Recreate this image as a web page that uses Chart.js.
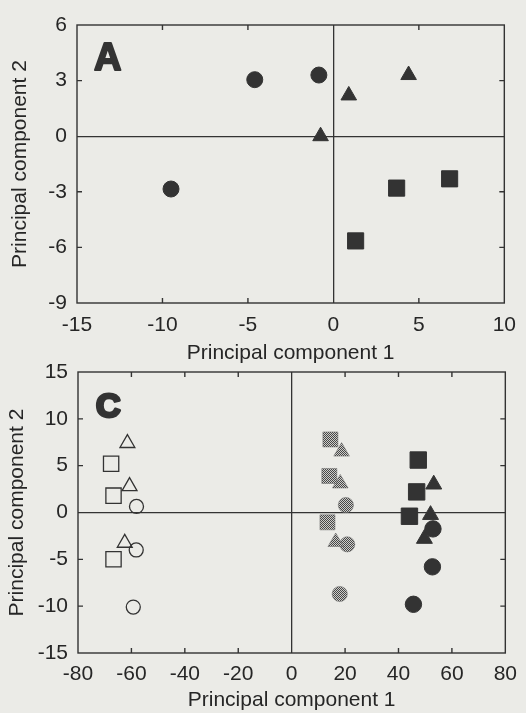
<!DOCTYPE html>
<html><head><meta charset="utf-8">
<script src="https://cdn.jsdelivr.net/npm/chart.js@4.4.1/dist/chart.umd.min.js"></script>
<style>
html,body{margin:0;padding:0;background:#ebebe7;width:526px;height:713px;overflow:hidden}
.box{position:absolute;left:0;width:526px}
#boxA{top:0;height:366px}
#boxC{top:340px;height:373px}
</style></head><body>
<div class="box" id="boxA"><canvas id="chartA"></canvas></div>
<div class="box" id="boxC"><canvas id="chartC"></canvas></div>
<script>
// ---------- Panel A ----------
const xTicksA = [-15, -10, -5, 0, 5, 10];
const yTicksA = [-9, -6, -3, 0, 3, 6];
const circlesA_x = [-4.6, -0.85, -9.5];
const circlesA_y = [3.05, 3.3, -2.85];
const trianglesA_x = [-0.75, 0.9, 4.4];
const trianglesA_y = [0.0, 2.2, 3.3];
const squaresA_x = [1.3, 3.7, 6.8];
const squaresA_y = [-5.65, -2.8, -2.3];

// ---------- Panel C ----------
const xTicksC = [-80, -60, -40, -20, 0, 20, 40, 60, 80];
const yTicksC = [-15, -10, -5, 0, 5, 10, 15];
const openTriC_x = [-61.5, -60.7, -62.5];
const openTriC_y = [7.4, 2.8, -3.25];
const openSqC_x = [-67.6, -66.7, -66.7];
const openSqC_y = [5.2, 1.8, -5.0];
const openCircC_x = [-58.1, -58.2, -59.3];
const openCircC_y = [0.65, -4.0, -10.1];
const hatchSqC_x = [14.5, 14.1, 13.4];
const hatchSqC_y = [7.8, 3.9, -1.05];
const hatchTriC_x = [18.7, 18.2, 16.5];
const hatchTriC_y = [6.5, 3.1, -3.15];
const hatchCircC_x = [20.3, 20.8, 18.0];
const hatchCircC_y = [0.8, -3.4, -8.7];
const fillSqC_x = [47.4, 46.8, 44.1];
const fillSqC_y = [5.6, 2.2, -0.4];
const fillTriC_x = [53.2, 52.0, 49.7];
const fillTriC_y = [3.0, -0.25, -2.8];
const fillCircC_x = [52.9, 52.7, 45.6];
const fillCircC_y = [-1.75, -5.8, -9.8];

const INK = '#333333';
const TEXT = '#262626';
const FONT = "'Liberation Sans', Arial, Helvetica, sans-serif";

function pts(xs, ys) { return xs.map((v, i) => ({ x: v, y: ys[i] })); }

function stipple() {
  const c = document.createElement('canvas');
  c.width = 2; c.height = 2;
  const g = c.getContext('2d');
  g.fillStyle = '#cdcdca'; g.fillRect(0, 0, 2, 2);
  g.fillStyle = '#474747'; g.fillRect(0, 0, 1, 1); g.fillRect(1, 1, 1, 1);
  return g.createPattern(c, 'repeat');
}
const HATCH = stipple();

const frameTicks = {
  id: 'frameTicks',
  beforeDatasetsDraw(chart, args, o) {
    const { ctx, chartArea: a, scales: { x, y } } = chart;
    ctx.save();
    ctx.strokeStyle = INK; ctx.lineWidth = 1.4;
    ctx.strokeRect(a.left, a.top, a.width, a.height);
    const L = 5;
    ctx.beginPath();
    x.ticks.forEach(t => {
      if (t.value === x.min || t.value === x.max || t.value === 0) return;
      const p = x.getPixelForValue(t.value);
      ctx.moveTo(p, a.top); ctx.lineTo(p, a.top + L);
      ctx.moveTo(p, a.bottom); ctx.lineTo(p, a.bottom - L);
    });
    y.ticks.forEach(t => {
      if (t.value === y.min || t.value === y.max || t.value === 0) return;
      const p = y.getPixelForValue(t.value);
      ctx.moveTo(a.left, p); ctx.lineTo(a.left + L, p);
      ctx.moveTo(a.right, p); ctx.lineTo(a.right - L, p);
    });
    ctx.stroke();
    // panel letter
    ctx.fillStyle = INK; ctx.strokeStyle = INK;
    ctx.font = 'bold ' + o.size + 'px ' + FONT;
    ctx.textAlign = 'left'; ctx.textBaseline = 'alphabetic';
    ctx.lineWidth = o.stroke; ctx.lineJoin = 'round';
    ctx.fillText(o.text, a.left + o.dx, a.top + o.dy);
    if (o.stroke > 0) ctx.strokeText(o.text, a.left + o.dx, a.top + o.dy);
    ctx.restore();
  }
};

function makeChart(id, cfg) {
  return new Chart(document.getElementById(id), {
    type: 'scatter',
    data: { datasets: cfg.datasets },
    plugins: [frameTicks],
    options: {
      responsive: true, maintainAspectRatio: false, animation: false,
      layout: { padding: cfg.pad },
      plugins: {
        legend: { display: false }, tooltip: { enabled: false },
        frameTicks: cfg.letter
      },
      scales: {
        x: {
          type: 'linear', position: 'bottom',
          min: cfg.xTicks[0], max: cfg.xTicks[cfg.xTicks.length - 1],
          afterBuildTicks: s => { s.ticks = cfg.xTicks.map(v => ({ value: v })); },
          afterFit: s => { s.height = cfg.xH; },
          border: { display: false },
          grid: { drawTicks: false, lineWidth: 1.3,
                  color: c => (c.tick && c.tick.value === 0) ? INK : 'rgba(0,0,0,0)' },
          ticks: { color: TEXT, padding: cfg.xTickPad, maxRotation: 0, autoSkip: false,
                   font: { family: FONT, size: 21 } },
          title: { display: true, text: 'Principal component 1', color: TEXT,
                   font: { family: FONT, size: 21 }, padding: { top: 0, bottom: 0 } }
        },
        y: {
          type: 'linear', position: 'left',
          min: cfg.yTicks[0], max: cfg.yTicks[cfg.yTicks.length - 1],
          afterBuildTicks: s => { s.ticks = cfg.yTicks.map(v => ({ value: v })); },
          afterFit: s => { s.width = cfg.yW; },
          border: { display: false },
          grid: { drawTicks: false, lineWidth: 1.3,
                  color: c => (c.tick && c.tick.value === 0) ? INK : 'rgba(0,0,0,0)' },
          ticks: { color: TEXT, padding: 10, autoSkip: false,
                   font: { family: FONT, size: 21 } },
          title: { display: true, text: 'Principal component 2', color: TEXT,
                   font: { family: FONT, size: 21 }, padding: { top: cfg.yTitlePad, bottom: 0 } }
        }
      }
    }
  });
}

function ds(label, data, style, r, fill, border, bw) {
  return { label, data, pointStyle: style, pointRadius: r, pointHoverRadius: r,
           backgroundColor: fill, borderColor: border, borderWidth: bw };
}

makeChart('chartA', {
  xTicks: xTicksA, yTicks: yTicksA,
  pad: { left: 0, top: 25, right: 19, bottom: 0 },
  xH: 63, yW: 77, xTickPad: 10, yTitlePad: 8,
  letter: { text: 'A', size: 38, dx: 17, dy: 45, stroke: 2 },
  datasets: [
    ds('circles', pts(circlesA_x, circlesA_y), 'circle', 8, INK, INK, 1),
    ds('triangles', pts(trianglesA_x, trianglesA_y), 'triangle', 9, INK, INK, 1),
    ds('squares', pts(squaresA_x, squaresA_y), 'rect', 11.4, INK, INK, 1)
  ]
});

makeChart('chartC', {
  xTicks: xTicksC, yTicks: yTicksC,
  pad: { left: 0, top: 32, right: 17, bottom: 0 },
  xH: 60, yW: 78, xTickPad: 9, yTitlePad: 5,
  letter: { text: 'C', size: 34, dx: 18, dy: 45, stroke: 3 },
  datasets: [
    ds('open triangles', pts(openTriC_x, openTriC_y), 'triangle', 8.6, 'rgba(0,0,0,0)', INK, 1.3),
    ds('open squares', pts(openSqC_x, openSqC_y), 'rect', 10.8, 'rgba(0,0,0,0)', INK, 1.3),
    ds('open circles', pts(openCircC_x, openCircC_y), 'circle', 7, 'rgba(0,0,0,0)', INK, 1.3),
    ds('hatched squares', pts(hatchSqC_x, hatchSqC_y), 'rect', 10.6, HATCH, '#666666', 0.5),
    ds('hatched triangles', pts(hatchTriC_x, hatchTriC_y), 'triangle', 9, HATCH, '#666666', 0.5),
    ds('hatched circles', pts(hatchCircC_x, hatchCircC_y), 'circle', 7.6, HATCH, '#666666', 0.5),
    ds('filled squares', pts(fillSqC_x, fillSqC_y), 'rect', 11.6, INK, INK, 1),
    ds('filled triangles', pts(fillTriC_x, fillTriC_y), 'triangle', 9.2, INK, INK, 1),
    ds('filled circles', pts(fillCircC_x, fillCircC_y), 'circle', 8.2, INK, INK, 1)
  ]
});
</script>
</body></html>
